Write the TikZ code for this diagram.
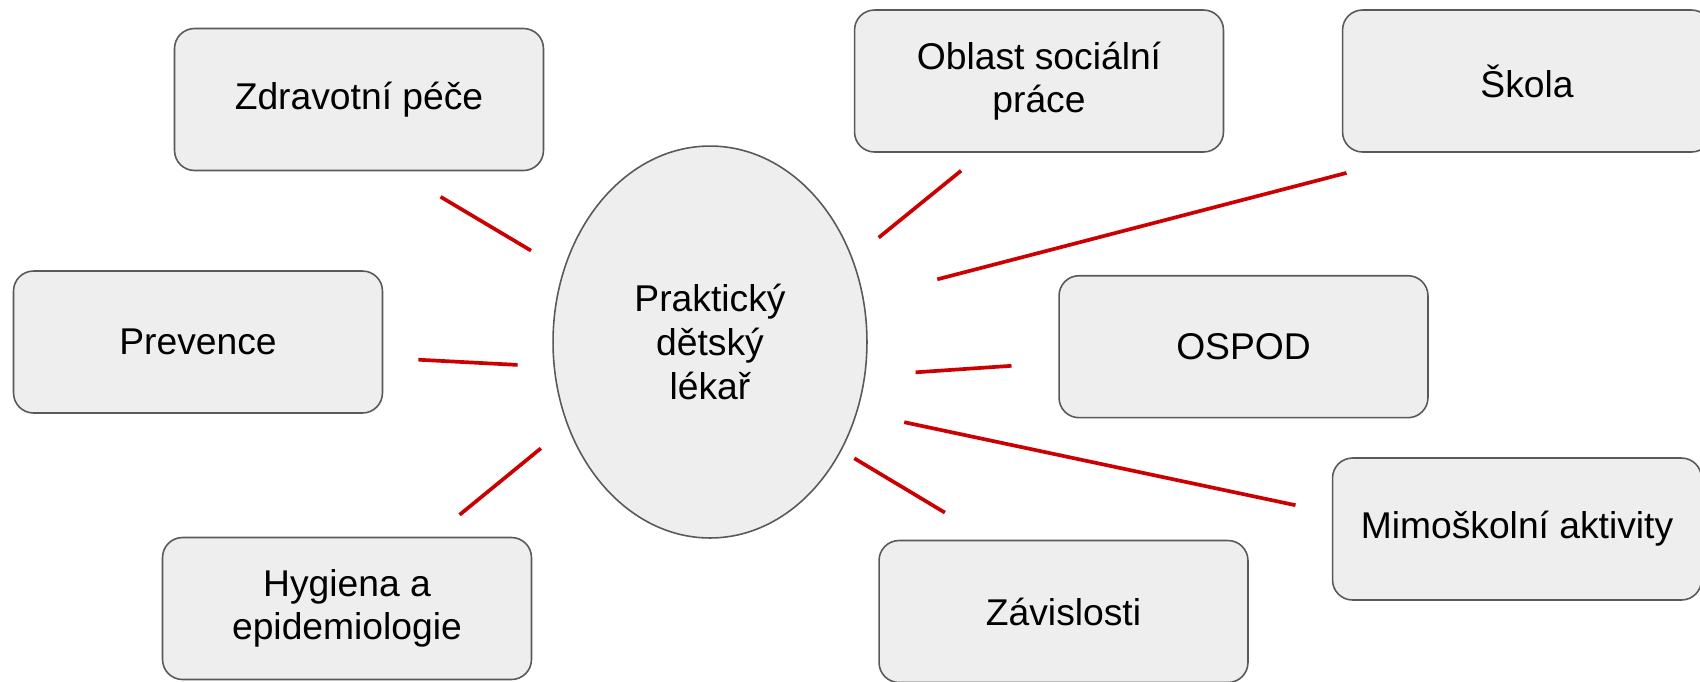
\documentclass[tikz,border=0pt]{standalone}
\usepackage{fontspec}
\setmainfont{Liberation Sans}
\usetikzlibrary{shapes.geometric}

\definecolor{linkred}{HTML}{CC0000}
\definecolor{boxfill}{HTML}{EEEEEE}
\definecolor{boxline}{HTML}{595959}

\tikzset{
  topic/.style={draw=boxline, fill=boxfill, line width=0.9pt, rounded corners=0.4cm,
    minimum width=7.38cm, minimum height=2.84cm, align=center,
    font=\fontsize{21.2}{24.8}\selectfont},
  doctor/.style={ellipse, draw=boxline, fill=boxfill, line width=0.9pt, inner sep=0pt,
    minimum width=6.28cm, minimum height=7.84cm, align=center,
    font=\fontsize{21.2}{24.8}\selectfont},
  link/.style={draw=linkred, line width=2.1pt}
}

\begin{document}
\begin{tikzpicture}[x=0.02cm, y=-0.02cm]
  \clip (0,0) rectangle (1700,681);
  \fill[white] (0,0) rectangle (1700,681);

  % centre
  \node [doctor] (pdl) at (710,342) {Praktický\\dětský\\lékař};

  % left side
  \node [topic] (zdrav) at (359,99.5) {Zdravotní péče};
  \node [topic] (prev) at (198,342) {Prevence};
  \node [topic] (hyg) at (347,608.5) {Hygiena a\\epidemiologie};

  % right side
  \node [topic] (oblast) at (1039,81) {Oblast sociální\\práce};
  \node [topic] (skola) at (1527,81) {Škola};
  \node [topic] (ospod) at (1243.5,346.7) {OSPOD};
  \node [topic] (mimo) at (1517,529) {Mimoškolní aktivity};
  \node [topic] (zavis) at (1063.5,611.5) {Závislosti};

  % line ends (the lines touch no shape)
  \coordinate (zdrav-a) at (440.6,196.8);  \coordinate (zdrav-b) at (531,250.6);
  \coordinate (prev-a) at (418.4,359.7);   \coordinate (prev-b) at (517.6,364.9);
  \coordinate (hyg-a) at (459.6,514.8);    \coordinate (hyg-b) at (540.9,448.3);
  \coordinate (oblast-a) at (961.1,170.7); \coordinate (oblast-b) at (878.7,237.6);
  \coordinate (skola-a) at (1346.5,172.9); \coordinate (skola-b) at (937.3,279.3);
  \coordinate (ospod-a) at (1011.5,365.8); \coordinate (ospod-b) at (915.6,372.3);
  \coordinate (mimo-a) at (1295.5,505.2);  \coordinate (mimo-b) at (904.2,422.2);
  \coordinate (zavis-a) at (944.9,512.6);  \coordinate (zavis-b) at (854.3,458.3);

  \foreach \t in {zdrav,prev,hyg,oblast,skola,ospod,mimo,zavis}
    \draw [link] (\t-a) -- (\t-b);
\end{tikzpicture}
\end{document}
